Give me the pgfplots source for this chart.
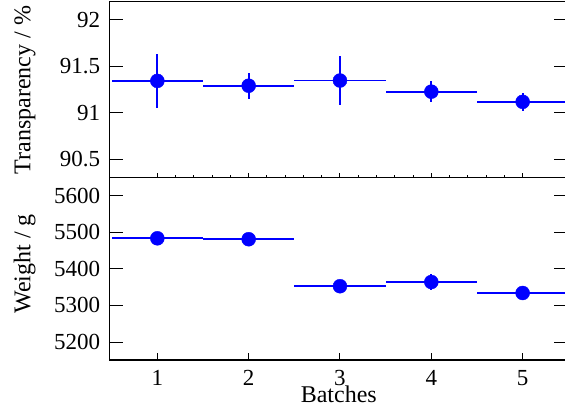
\documentclass[border=0pt]{standalone}
\usepackage{fontspec}
\setmainfont{Liberation Serif}
\usepackage{pgfplots}
\usepackage{pgfplotstable}
\pgfplotsset{compat=1.18}
\definecolor{rootblue}{RGB}{0,0,255}

% batch, transparency, error, weight, error, half bin width
\pgfplotstableread{
x  t       te    w       we   ex
1  91.343  0.29  5483.5  4    0.5
2  91.291  0.14  5481.0  4    0.5
3  91.347  0.26  5352.5  4    0.5
4  91.227  0.11  5364.0  23   0.5
5  91.118  0.10  5334.0  4    0.5
}\batches

\newcommand{\labfont}{\fontsize{24}{26}\selectfont}
\pgfplotsset{
  panel/.style={
    scale only axis, width=459pt,
    xmin=0.474, xmax=5.5,
    axis line style={line width=1.1pt},
    every tick/.style={line width=1pt, black},
    tick align=inside,
    /pgf/number format/assume math mode=true,
    /pgf/number format/1000 sep={},
    tick label style={font=\fontsize{23}{25}\selectfont},
    yticklabel style={inner sep=0pt, xshift=-9pt},
  },
  overlay/.style={
    panel, hide y axis, axis x line*=bottom,
    axis line style={line width=1.1pt, -},
  },
  pts/.style={
    only marks, mark=*, mark size=7pt, rootblue,
    mark options={fill=rootblue, draw=rootblue},
    error bars/.cd, x dir=both, x explicit, y dir=both, y explicit,
    error mark=none, error bar style={line width=1.8pt, rootblue},
  },
}

\begin{document}
\begin{tikzpicture}
\path[use as bounding box] (-109.3pt,-52pt) rectangle (455.7pt,360pt);
\clip (-109.3pt,-52pt) rectangle (455.7pt,360pt);

% top panel
\begin{axis}[panel, at={(0pt,182.7pt)}, height=175.6pt,
    ymin=90.307, ymax=92.194,
    ytick={90.5,91,91.5,92}, yticklabels={90.5,91,91.5,92},
    ytick pos=both, xtick=\empty, major tick length=14pt,
    ylabel={Transparency / \%},
    every axis y label/.style={at={(axis description cs:-0.172,0.497)}, rotate=90, anchor=base, font=\labfont},
]
\addplot[pts] table[x=x, y=t, x error=ex, y error=te] {\batches};
\end{axis}
\begin{axis}[overlay, at={(0pt,182.7pt)}, height=175.6pt,
    ymin=90.307, ymax=92.194,
    xtick={1,2,3,4,5}, xticklabels={}, minor x tick num=4,
    major tick length=4.5pt, minor tick length=2.5pt,
]
\addplot[draw=none] coordinates {(1,91)};
\end{axis}

% bottom panel
\begin{axis}[panel, at={(0pt,0pt)}, height=182.7pt,
    ymin=5150.8, ymax=5650.3,
    ytick={5200,5300,5400,5500,5600},
    ytick pos=both, xtick=\empty, major tick length=14pt,
    ylabel={Weight / g},
    every axis y label/.style={at={(axis description cs:-0.172,0.527)}, rotate=90, anchor=base, font=\labfont},
]
\addplot[pts] table[x=x, y=w, x error=ex, y error=we] {\batches};
\end{axis}
\begin{axis}[overlay, at={(0pt,0pt)}, height=182.7pt,
    ymin=5150.8, ymax=5650.3,
    xtick={1,2,3,4,5}, major tick length=7pt,
    xticklabel style={anchor=base, inner sep=0pt, yshift=-26pt},
    xlabel={Batches},
    every axis x label/.style={at={(axis description cs:0.5,0)}, anchor=base, yshift=-42.7pt, font=\labfont},
]
\addplot[draw=none] coordinates {(1,5400)};
\end{axis}
\end{tikzpicture}
\end{document}
